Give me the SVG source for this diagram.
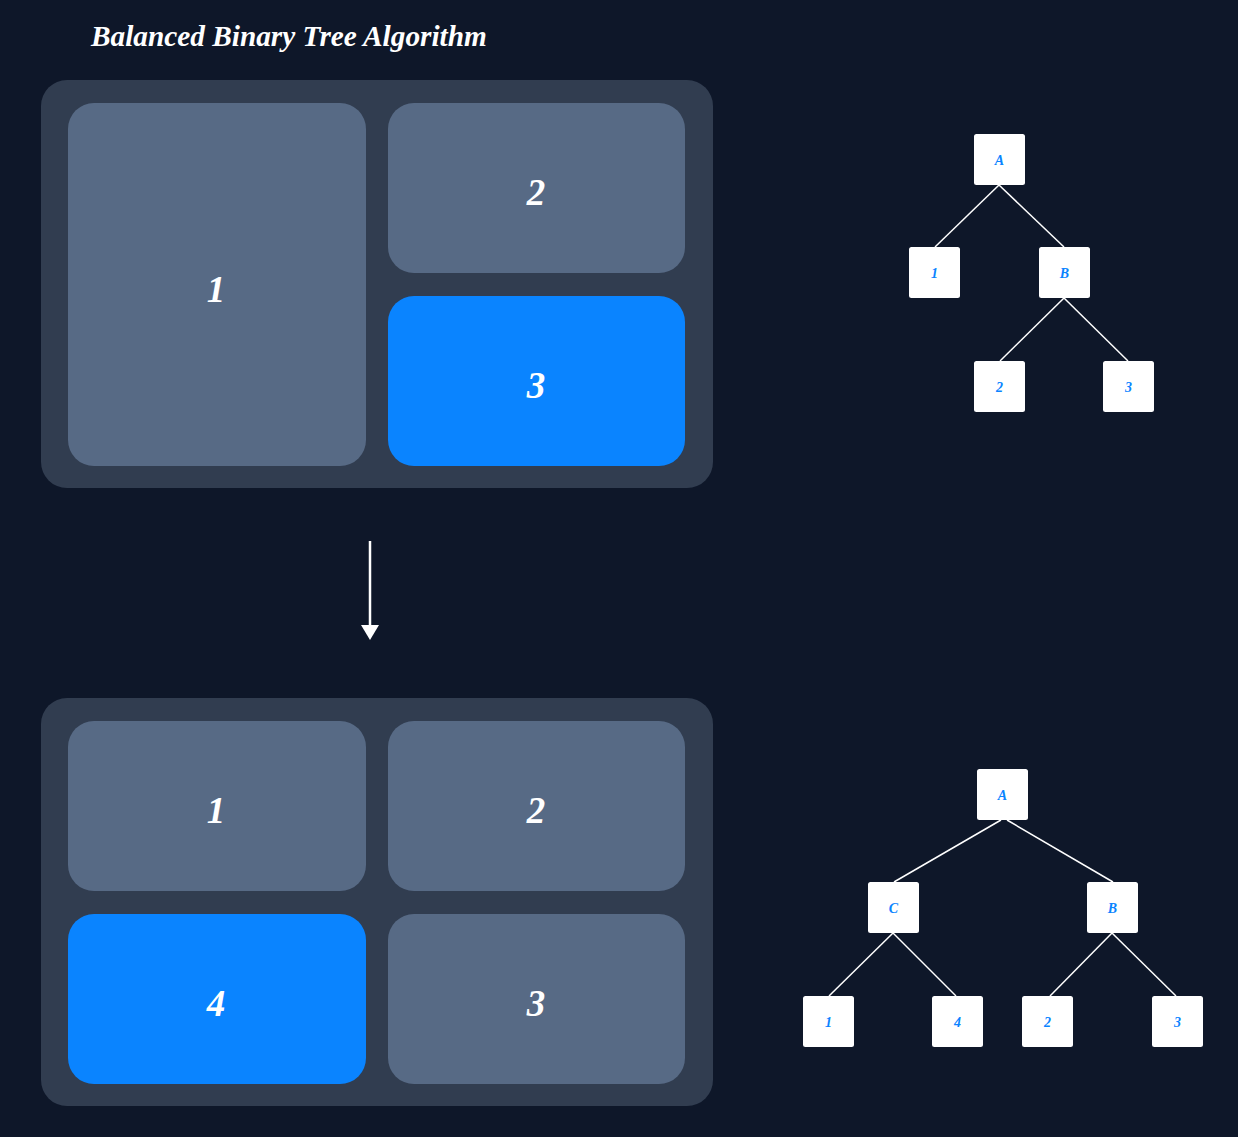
<svg xmlns="http://www.w3.org/2000/svg" width="1238" height="1137" viewBox="0 0 1238 1137">
<defs>
<style>
.bg{fill:#0e1729}
.outer{fill:#313d50}
.cell{fill:#576a85}
.hi{fill:#0a84ff}
.big{font-family:"Liberation Serif","Times New Roman",serif;font-style:italic;font-weight:bold;font-size:37px;fill:#ffffff;text-anchor:middle}
.title{font-family:"Liberation Serif","Times New Roman",serif;font-style:italic;font-weight:bold;font-size:29.3px;fill:#ffffff}
.tn{fill:#ffffff}
.tl{font-family:"Liberation Serif","Times New Roman",serif;font-style:italic;font-weight:bold;font-size:14px;fill:#0a84ff;text-anchor:middle}
.edge{stroke:#ffffff;stroke-width:1.5;fill:none}
</style>
</defs>
<rect class="bg" x="0" y="0" width="1238" height="1137"/>
<text class="title" x="91" y="46">Balanced Binary Tree Algorithm</text>

<g id="layout-before">
<rect class="outer" x="41" y="80" width="672" height="408" rx="26"/>
<g id="cell-1"><rect class="cell" x="68" y="103" width="298" height="363" rx="26"/><text class="big" x="216" y="302">1</text></g>
<g id="cell-2"><rect class="cell" x="388" y="103" width="297" height="170" rx="26"/><text class="big" x="536" y="205">2</text></g>
<g id="cell-3"><rect class="hi" x="388" y="296" width="297" height="170" rx="26"/><text class="big" x="536" y="398">3</text></g>
</g>

<g id="layout-after">
<rect class="outer" x="41" y="698" width="672" height="408" rx="26"/>
<g id="cell2-1"><rect class="cell" x="68" y="721" width="298" height="170" rx="26"/><text class="big" x="216" y="823">1</text></g>
<g id="cell2-2"><rect class="cell" x="388" y="721" width="297" height="170" rx="26"/><text class="big" x="536" y="823">2</text></g>
<g id="cell2-4"><rect class="hi" x="68" y="914" width="298" height="170" rx="26"/><text class="big" x="216" y="1016">4</text></g>
<g id="cell2-3"><rect class="cell" x="388" y="914" width="297" height="170" rx="26"/><text class="big" x="536" y="1016">3</text></g>
</g>

<g id="connectors">
<line x1="370" y1="541" x2="370" y2="626" stroke="#ffffff" stroke-width="2.5"/>
<polygon points="361,625 379,625 370,640" fill="#ffffff"/>
<line class="edge" x1="999" y1="185" x2="935" y2="247"/>
<line class="edge" x1="999" y1="185" x2="1064" y2="247"/>
<line class="edge" x1="1064" y1="298" x2="1000" y2="361"/>
<line class="edge" x1="1064" y1="298" x2="1128" y2="361"/>
<line class="edge" x1="1001" y1="820" x2="894" y2="882"/>
<line class="edge" x1="1007" y1="820" x2="1113" y2="882"/>
<line class="edge" x1="893" y1="933" x2="829" y2="996"/>
<line class="edge" x1="893" y1="933" x2="956" y2="996"/>
<line class="edge" x1="1112" y1="933" x2="1050" y2="996"/>
<line class="edge" x1="1112" y1="933" x2="1176" y2="996"/>
</g>

<g id="tree1-A"><rect class="tn" x="974" y="134" width="51" height="51" rx="2.5"/><text class="tl" x="999.5" y="165">A</text></g>
<g id="tree1-1"><rect class="tn" x="909" y="247" width="51" height="51" rx="2.5"/><text class="tl" x="934.5" y="278">1</text></g>
<g id="tree1-B"><rect class="tn" x="1039" y="247" width="51" height="51" rx="2.5"/><text class="tl" x="1064.5" y="278">B</text></g>
<g id="tree1-2"><rect class="tn" x="974" y="361" width="51" height="51" rx="2.5"/><text class="tl" x="999.5" y="392">2</text></g>
<g id="tree1-3"><rect class="tn" x="1103" y="361" width="51" height="51" rx="2.5"/><text class="tl" x="1128.5" y="392">3</text></g>

<g id="tree2-A"><rect class="tn" x="977" y="769" width="51" height="51" rx="2.5"/><text class="tl" x="1002.5" y="800">A</text></g>
<g id="tree2-C"><rect class="tn" x="868" y="882" width="51" height="51" rx="2.5"/><text class="tl" x="893.5" y="913">C</text></g>
<g id="tree2-B"><rect class="tn" x="1087" y="882" width="51" height="51" rx="2.5"/><text class="tl" x="1112.5" y="913">B</text></g>
<g id="tree2-1"><rect class="tn" x="803" y="996" width="51" height="51" rx="2.5"/><text class="tl" x="828.5" y="1027">1</text></g>
<g id="tree2-4"><rect class="tn" x="932" y="996" width="51" height="51" rx="2.5"/><text class="tl" x="957.5" y="1027">4</text></g>
<g id="tree2-2"><rect class="tn" x="1022" y="996" width="51" height="51" rx="2.5"/><text class="tl" x="1047.5" y="1027">2</text></g>
<g id="tree2-3"><rect class="tn" x="1152" y="996" width="51" height="51" rx="2.5"/><text class="tl" x="1177.5" y="1027">3</text></g>
</svg>
